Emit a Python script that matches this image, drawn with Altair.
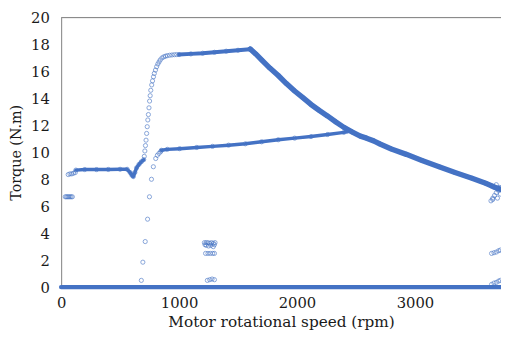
import altair as alt
import pandas as pd

BLUE = "#4472C4"

# ---- dense curves ----
plateau_rpm = [125, 200, 300, 400, 500, 560, 585, 600, 612, 625, 640, 660, 680, 700]
plateau_tq = [8.68, 8.72, 8.72, 8.73, 8.74, 8.74, 8.5, 8.3, 8.2, 8.5, 8.85, 9.1, 9.3, 9.45]

rise_rpm = [705, 710, 715, 720, 725, 730, 735, 740, 745, 750, 755, 760, 768, 775, 783,
            790, 800, 810, 820, 830, 840, 855, 870, 885, 900, 920, 940, 960, 980]
rise_tq = [9.7, 10.1, 10.5, 10.9, 11.4, 11.9, 12.4, 12.8, 13.3, 13.8, 14.2, 14.6, 15.0, 15.3, 15.6,
           15.85, 16.1, 16.35, 16.55, 16.7, 16.85, 17.0, 17.08, 17.13, 17.17, 17.2, 17.22, 17.24, 17.25]

top_rpm = [1000, 1100, 1200, 1300, 1400, 1500, 1600]
top_tq = [17.25, 17.3, 17.35, 17.42, 17.5, 17.57, 17.65]

decay_rpm = [1604, 1650, 1702, 1770, 1841, 1910, 1980, 2050, 2119, 2190, 2258, 2330, 2398,
             2470, 2537, 2590, 2650, 2704, 2800, 2927, 3060, 3205, 3340, 3484, 3600, 3707, 3730]
decay_tq = [17.66, 17.3, 16.84, 16.25, 15.7, 15.1, 14.55, 14.05, 13.55, 13.1, 12.7, 12.25, 11.85,
            11.5, 11.2, 11.05, 10.85, 10.62, 10.25, 9.85, 9.4, 8.93, 8.5, 8.08, 7.7, 7.3, 7.25]

lower_rpm = [850, 900, 1005, 1150, 1284, 1420, 1562, 1700, 1841, 1980, 2119, 2260, 2398, 2425]
lower_tq = [10.15, 10.22, 10.27, 10.36, 10.44, 10.53, 10.63, 10.78, 10.93, 11.05, 11.17, 11.32, 11.48, 11.55]

zero_rpm = [0, 3730]
zero_tq = [0, 0]

# ---- sparse points ----
trans_rpm = [680, 693, 713, 733, 749, 766, 782, 802, 816, 830, 844]
trans_tq = [0.5, 1.85, 3.38, 5.04, 6.7, 8.0, 8.93, 9.54, 9.78, 9.92, 10.05]

start_rpm = [35, 45, 55, 65, 75, 85, 95, 60, 75, 90, 105, 120]
start_tq = [6.7, 6.7, 6.7, 6.7, 6.7, 6.7, 6.7, 8.35, 8.4, 8.4, 8.45, 8.5]

mid_rpm = [1215, 1230, 1245, 1260, 1275, 1290, 1305, 1230, 1250, 1270, 1290, 1220, 1300,
           1225, 1245, 1265, 1285, 1300, 1240, 1260, 1280, 1300]
mid_tq = [3.3, 3.3, 3.3, 3.25, 3.3, 3.25, 3.3, 3.1, 3.05, 3.1, 3.0, 3.15, 3.15,
          2.5, 2.5, 2.5, 2.5, 2.5, 0.5, 0.55, 0.6, 0.55]

end_rpm = [3645, 3660, 3675, 3690, 3705, 3720, 3650, 3670, 3690, 3710, 3725, 3660, 3700,
           3650, 3670, 3690, 3710, 3725, 3650, 3670, 3690, 3710, 3725]
end_tq = [6.4, 6.6, 6.8, 7.0, 7.2, 7.4, 7.5, 7.4, 7.6, 7.35, 6.9, 6.5, 6.6,
          2.5, 2.55, 2.6, 2.7, 2.75, 0.2, 0.3, 0.35, 0.45, 0.5]

frame_top = [20]

x_ticks = [0, 1000, 2000, 3000]
y_ticks = [0, 2, 4, 6, 8, 10, 12, 14, 16, 18, 20]


def seg(name, xs, ys, w):
    return pd.DataFrame({"rpm": xs, "torque": ys, "seg": name, "sw": w})


dense = pd.concat([
    seg("plateau", plateau_rpm, plateau_tq, 3.5),
    seg("top", top_rpm, top_tq, 4),
    seg("decay", decay_rpm, decay_tq, 5.5),
    seg("lower", lower_rpm, lower_tq, 3.5),
    seg("zero", zero_rpm, zero_tq, 4.5),
])
sparse = pd.concat([
    seg("rise", rise_rpm, rise_tq, 0),
    seg("trans", trans_rpm, trans_tq, 0),
    seg("start", start_rpm, start_tq, 0),
    seg("mid", mid_rpm, mid_tq, 0),
    seg("end", end_rpm, end_tq, 0),
    seg("plateau", plateau_rpm, plateau_tq, 0),
    seg("top", top_rpm, top_tq, 0),
    seg("decay", decay_rpm, decay_tq, 0),
    seg("lower", lower_rpm, lower_tq, 0),
])

FONT = "DejaVu Serif"
TXT = "#1a1a1a"
xscale = alt.Scale(domain=[0, 3730], nice=False, zero=False)
yscale = alt.Scale(domain=[0, 20], nice=False)

xaxis = alt.Axis(values=x_ticks, format="d", grid=False, tickSize=0, labelPadding=9,
                 titlePadding=4, domainColor="#888888", labelFont=FONT,
                 titleFont=FONT, labelFontSize=15, titleFontSize=15.5,
                 titleFontWeight="normal", labelColor=TXT, titleColor=TXT,
                 labelFlush=False, labelOverlap=False)
yaxis = alt.Axis(values=y_ticks, format="d", grid=False, tickSize=0, labelPadding=12,
                 titlePadding=7, domainColor="#888888", labelFont=FONT,
                 titleFont=FONT, labelFontSize=15, titleFontSize=14.5,
                 titleFontWeight="normal", labelColor=TXT, titleColor=TXT,
                 labelFlush=False, labelOverlap=False)

xenc = alt.X("rpm:Q", scale=xscale, title="Motor rotational speed (rpm)", axis=xaxis)
yenc = alt.Y("torque:Q", scale=yscale, title="Torque (N.m)", axis=yaxis)

lines = alt.Chart(dense).mark_line(color=BLUE, strokeCap="round", strokeJoin="round").encode(
    x=xenc, y=yenc, detail="seg:N",
    strokeWidth=alt.StrokeWidth("sw:Q", scale=None, legend=None),
    order=alt.Order("rpm:Q"),
)
points = alt.Chart(sparse).mark_point(shape="circle", filled=False, size=18,
                                      strokeWidth=0.9, color=BLUE).encode(x=xenc, y=yenc)
top_rule = alt.Chart(pd.DataFrame({"torque": frame_top})).mark_rule(
    color="#888888", strokeWidth=1).encode(y=yenc)

chart = alt.layer(lines, points, top_rule).properties(
    width=447, height=274,
    autosize=alt.AutoSizeParams(type="none"),
    padding={"left": 54, "top": 7, "right": 0, "bottom": 46},
).configure_view(stroke=None).configure(background="white", font=FONT)

chart.save("out.html", embed_options={"renderer": "svg", "actions": False})
